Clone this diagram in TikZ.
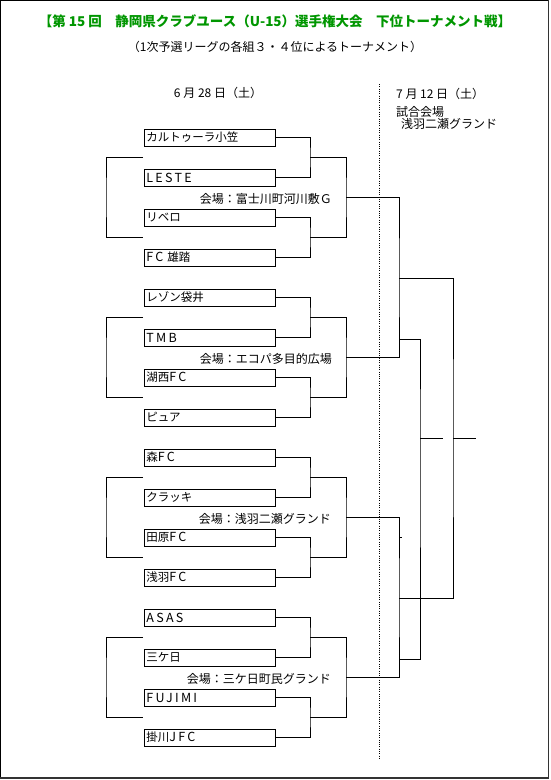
\documentclass[tikz,border=0pt]{standalone}
\usepackage{fontspec}
\setmainfont{Noto Sans CJK JP}
\newcommand\spc[1]{{\fontsize{12.5}{12.5}\selectfont\addfontfeature{LetterSpace=18}#1}}
\definecolor{titlegreen}{RGB}{0,150,0}
\begin{document}
\begin{tikzpicture}[x=1pt,y=-1pt,
  team/.style={draw, line width=0.9pt, rectangle, minimum width=131pt, minimum height=17pt,
    inner sep=0pt, text width=127pt, align=left, anchor=west,
    font=\fontsize{11.5}{12}\selectfont},
  conn/.style={line width=0.9pt},
  lbl/.style={inner sep=0pt, font=\fontsize{12}{13}\selectfont},
  venue/.style={lbl, anchor=east}]
\useasboundingbox (0,0) rectangle (550,780);
% frame
\draw[line width=1pt] (0.5,778) -- (0.5,0.5) -- (548.5,0.5);
\draw[line width=1.8pt, black!80] (548.5,0) -- (548.5,778.3) -- (0,778.3);

% titles
\node[inner sep=0pt, font=\fontsize{13.5}{14}\selectfont\bfseries, text=titlegreen] (title) at (275,21)
  {【第 15 回　静岡県クラブユース（U-15）選手権大会　下位トーナメント戦】};
\node[lbl] (sub) at (275,47) {（1次予選リーグの各組３・４位によるトーナメント）};
\node[lbl] (d1) at (218,93) {6 月 28 日（土）};
\node[lbl, anchor=west] (d2) at (396,94) {7 月 12 日（土）};
\node[lbl, anchor=west] (v0a) at (396,111.5) {試合会場};
\node[lbl, anchor=west] (v0b) at (401,124) {浅羽二瀬グランド};

% dotted divider
\coordinate (dt) at (379,84);
\coordinate (db) at (379,759);
\draw[line width=0.9pt, dash pattern=on 1pt off 1.3pt] (dt) -- (db);

% teams
\node[team] (t1)  at (144,137.5) {カルトゥーラ小笠};
\node[team] (t2)  at (144,177.5) {\spc{LESTE}};
\node[team] (t3)  at (144,217.5) {リベロ};
\node[team] (t4)  at (144,257.5) {\spc{FC} 雄踏};
\node[team] (t5)  at (144,297.5) {レゾン袋井};
\node[team] (t6)  at (144,337.5) {\spc{TMB}};
\node[team] (t7)  at (144,377.5) {湖西\spc{FC}};
\node[team] (t8)  at (144,417.5) {ピュア};
\node[team] (t9)  at (144,457.5) {森\spc{FC}};
\node[team] (t10) at (144,497.5) {クラッキ};
\node[team] (t11) at (144,537.5) {田原\spc{FC}};
\node[team] (t12) at (144,577.5) {浅羽\spc{FC}};
\node[team] (t13) at (144,617.5) {\spc{ASAS}};
\node[team] (t14) at (144,657.5) {三ケ日};
\node[team] (t15) at (144,697.5) {\spc{FUJIMI}};
\node[team] (t16) at (144,737.5) {掛川\spc{JFC}};

% venue labels
\node[venue] (ven1) at (332,199) {会場：富士川町河川敷Ｇ};
\node[venue] (ven2) at (332,359) {会場：エコパ多目的広場};
\node[venue] (ven3) at (331,519) {会場：浅羽二瀬グランド};
\node[venue] (ven4) at (331,679) {会場：三ケ日町民グランド};

% first round joints
\foreach \k/\y in {1/157.5,2/237.5,3/317.5,4/397.5,5/477.5,6/557.5,7/637.5,8/717.5}
  \coordinate (j\k) at (310,\y);
\foreach \k/\y in {1/197.5,2/357.5,3/517.5,4/677.5}{
  \coordinate (g\k) at (346,\y);
  \coordinate (la\k) at (143,\y-40);
  \coordinate (lb\k) at (143,\y+40);
  \coordinate (lx\k) at (106,\y);
}
\draw[conn] (t1.east) -| (j1) |- (t2.east);
\draw[conn] (t3.east) -| (j2) |- (t4.east);
\draw[conn] (t5.east) -| (j3) |- (t6.east);
\draw[conn] (t7.east) -| (j4) |- (t8.east);
\draw[conn] (t9.east) -| (j5) |- (t10.east);
\draw[conn] (t11.east) -| (j6) |- (t12.east);
\draw[conn] (t13.east) -| (j7) |- (t14.east);
\draw[conn] (t15.east) -| (j8) |- (t16.east);

\draw[conn] (j1) -| (g1) |- (j2);
\draw[conn] (j3) -| (g2) |- (j4);
\draw[conn] (j5) -| (g3) |- (j6);
\draw[conn] (j7) -| (g4) |- (j8);

% left brackets
\foreach \k in {1,2,3,4}
  \draw[conn] (la\k) -| (lx\k) |- (lb\k);

% final day
\coordinate (s1) at (399,278);
\coordinate (s2) at (399,598);
\coordinate (fin) at (453,438);
\coordinate (finout) at (476,438);
\coordinate (a1) at (399,339);
\coordinate (a2) at (399,659);
\coordinate (tp) at (420,438);
\coordinate (tpout) at (443,438);
\coordinate (tk) at (399,537);
\coordinate (tkend) at (401.5,537);

\draw[conn] (g1) -| (s1) |- (g2);
\draw[conn] (g3) -| (s2) |- (g4);
\draw[conn] (s1) -| (fin) |- (s2);
\draw[conn] (fin) -- (finout);
\draw[conn] (a1) -| (tp) |- (a2);
\draw[conn] (tp) -- (tpout);
\draw[line width=0.7pt] (tk) -- (tkend);
\end{tikzpicture}
\end{document}
